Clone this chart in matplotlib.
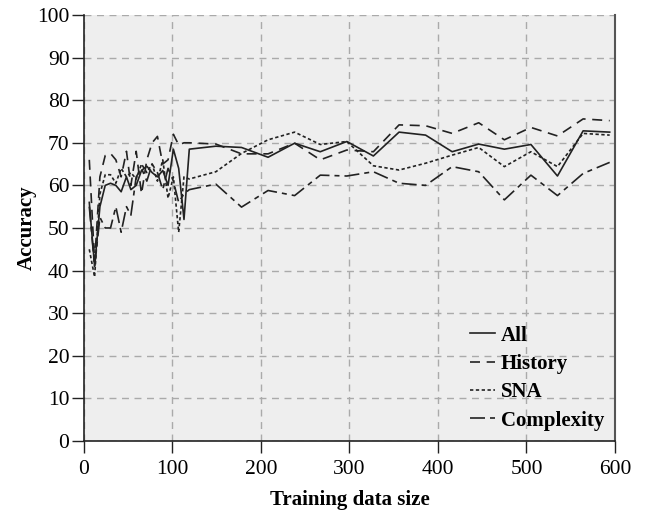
import matplotlib.pyplot as plt

plt.rcParams["font.family"] = ["Liberation Serif", "DejaVu Serif"]

# training set sizes (1% .. 20%, then 5% steps)
sizes = [6, 12, 18, 24, 30, 36, 42, 48, 53, 59, 65, 71, 77, 83, 89, 95, 101, 107, 113, 119,
         149, 178, 208, 238, 267, 297, 327, 356, 386, 416, 446, 475, 505, 535, 564, 594]

acc_all = [56, 41, 55, 60, 60.5, 60, 58.5, 62, 59, 60, 63.5, 64.5, 63, 62, 63.5, 60, 68.5, 64, 52, 68.5,
           69.2, 68.9, 66.6, 69.9, 67.9, 70.3, 66.9, 72.5, 71.8, 67.9, 69.7, 68.5, 69.6, 62.2, 72.8, 72.5]
acc_history = [66, 42, 62, 67, 67.5, 66, 62, 68, 60, 68, 58, 66, 70, 71.5, 65, 66, 72, 69.5, 70, 70,
               69.7, 67.4, 67.4, 69.9, 66, 68.3, 67.9, 74.2, 74, 72.2, 74.7, 70.7, 73.6, 71.6, 75.6, 75.2]
acc_sna = [45, 38.5, 58, 62.5, 62.5, 60.5, 64, 62, 63, 61.5, 65, 63, 65, 61, 66, 57, 62, 49, 62, 61.5,
           63.2, 67.5, 70.7, 72.5, 69.6, 70.3, 64.6, 63.6, 65.2, 67.1, 68.9, 64.4, 67.9, 64.4, 72.2, 71.8]
acc_complexity = [55, 41, 52.5, 50, 50, 55, 49, 55, 53, 62, 64, 61, 65, 63, 59, 64, 61, 56, 58, 59,
                  60.3, 54.9, 58.8, 57.6, 62.4, 62.2, 63.2, 60.5, 60, 64.4, 63.2, 56.6, 62.4, 57.6, 62.8, 65.4]

fig = plt.figure(figsize=(6.46, 5.13), dpi=100)
ax = fig.add_axes([0.130, 0.1404, 0.822, 0.8304])
ax.set_facecolor("#eeeeee")

lc = "#222222"
ax.plot(sizes, acc_all, color=lc, lw=1.2, linestyle="-", label="All")
ax.plot(sizes, acc_history, color=lc, lw=1.2, linestyle=(0, (6, 4)), label="History")
ax.plot(sizes, acc_sna, color=lc, lw=1.2, linestyle=(0, (2, 1.5)), label="SNA")
ax.plot(sizes, acc_complexity, color=lc, lw=1.2, linestyle=(0, (9, 3, 3, 3)), label="Complexity")

ax.set_xlim(0, 600)
ax.set_ylim(0, 100)
ax.set_xticks(range(0, 601, 100))
ax.set_yticks(range(0, 101, 10))
ax.grid(True, color="#aaaaaa", linestyle=(0, (5, 4)), lw=1)
ax.set_axisbelow(True)

ax.spines["top"].set_visible(False)
ax.spines["right"].set_color("#555555")
ax.spines["right"].set_linewidth(1.5)
for s in ("left", "bottom"):
    ax.spines[s].set_color("#222222")
    ax.spines[s].set_linewidth(1.2)

ax.tick_params(axis="both", direction="out", length=8.5, width=1, labelsize=15.5, color="#222222")
ax.tick_params(axis="y", pad=2)
ax.tick_params(axis="x", pad=5)

ax.set_xlabel("Training data size", fontsize=15, fontweight="bold", labelpad=8)
ax.set_ylabel("Accuracy", fontsize=15, fontweight="bold", labelpad=0)

ax.legend(loc="lower right", frameon=False, prop={"size": 15, "weight": "bold"},
          handlelength=1.2, handletextpad=0.3, labelspacing=0.4,
          bbox_to_anchor=(1.015, -0.02))

fig.savefig("out.png", dpi=100)
